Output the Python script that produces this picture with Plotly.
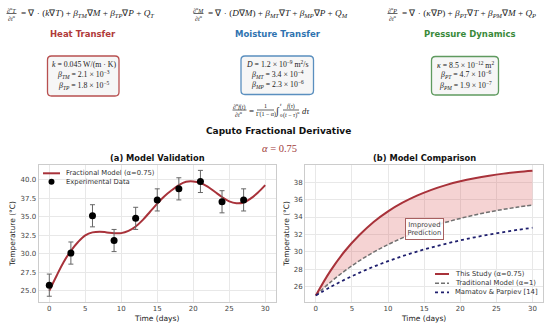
import plotly.graph_objects as go

W, H = 550, 327

# ---------------- data ----------------
val_time_days = [0, 3, 6, 9, 12, 15, 18, 21, 24, 27]
val_temp_exp = [25.75, 30.1, 35.15, 31.8, 34.8, 37.3, 38.8, 39.8, 37.05, 37.3]
val_temp_err = [1.5, 1.5, 1.5, 1.5, 1.5, 1.5, 1.5, 1.5, 1.5, 1.5]

model_time_days = list(range(0, 31))
model_temp_frac = [25.0, 27.0, 28.9, 30.4, 31.6, 32.5, 32.9, 33.0, 32.9, 32.8,
                   32.8, 33.1, 33.7, 34.6, 35.7, 36.8, 37.8, 38.6, 39.3, 39.75,
                   39.8, 39.6, 39.1, 38.4, 37.7, 37.1, 36.85, 36.95, 37.5, 38.3,
                   39.3]

cmp_time_days = [0, 2, 4, 6, 8, 10, 12, 14, 16, 18, 20, 22, 24, 26, 28, 30]
cmp_this_study = [25.0, 27.79, 30.07, 31.9, 33.43, 34.65, 35.64, 36.45, 37.12,
                  37.66, 38.10, 38.45, 38.74, 38.98, 39.17, 39.31]
cmp_traditional = [25.0, 26.50, 27.81, 28.96, 29.96, 30.84, 31.61, 32.28, 32.87,
                   33.39, 33.84, 34.23, 34.58, 34.88, 35.14, 35.38]
cmp_mamatov = [25.0, 25.95, 26.81, 27.59, 28.30, 28.93, 29.51, 30.03, 30.51,
               30.93, 31.32, 31.67, 31.99, 32.27, 32.53, 32.77]

x_ticks = [0, 5, 10, 15, 20, 25, 30]
y_ticks_a = [25.0, 27.5, 30.0, 32.5, 35.0, 37.5, 40.0]
y_ticks_b = [26, 28, 30, 32, 34, 36, 38]

# ---------------- styles ----------------
RED = "#a8323a"
HEAT = "#b03a3a"
MOIST = "#2f73b0"
PRESS = "#3a8a3a"
GRID = "#e8e8e8"
FRAME = "#cccccc"
SANS = "DejaVu Sans"
SERIF = "Liberation Serif"


def px(x):
    return x / W


def py(y):
    return 1 - y / H


annotations = []
shapes = []


def text(x, y, s, size, color="#222", family=SERIF, xanchor="center"):
    annotations.append(dict(x=px(x), y=py(y), xref="paper", yref="paper", text=s,
                            showarrow=False, xanchor=xanchor, yanchor="middle",
                            font=dict(size=size, color=color, family=family)))


def hline(x0, x1, y, color="#222", width=0.7, dash="solid"):
    shapes.append(dict(type="line", xref="paper", yref="paper",
                       x0=px(x0), x1=px(x1), y0=py(y), y1=py(y),
                       line=dict(color=color, width=width, dash=dash)))


def frac(xc, yc, num, den, w, size=6):
    text(xc, yc - 3.8, num, size)
    text(xc, yc + 4.2, den, size)
    hline(xc - w / 2, xc + w / 2, yc)


def rrect(x0, y0, x1, y1, r, color):
    rx, ry = r / W, r / H
    X0, X1, Y0, Y1 = px(x0), px(x1), py(y0), py(y1)
    p = (f"M {X0+rx},{Y0} L {X1-rx},{Y0} Q {X1},{Y0} {X1},{Y0-ry} "
         f"L {X1},{Y1+ry} Q {X1},{Y1} {X1-rx},{Y1} L {X0+rx},{Y1} "
         f"Q {X0},{Y1} {X0},{Y1+ry} L {X0},{Y0-ry} Q {X0},{Y0} {X0+rx},{Y0} Z")
    shapes.append(dict(type="path", xref="paper", yref="paper", path=p,
                       fillcolor="#f6f6f6", line=dict(color=color, width=1.3)))


# ---------------- equations ----------------
EQ = 9.2
frac(11.5, 13.5, "∂<sup>α</sup><i>T</i>", "∂<i>t</i><sup>α</sup>", 10)
text(19, 13.5, "= ∇ · (<i>k</i>∇<i>T</i>) + <i>β<sub>TM</sub></i>∇<i>M</i> + "
     "<i>β<sub>TP</sub></i>∇<i>P</i> + <i>Q<sub>T</sub></i>", EQ, xanchor="left")
frac(198.5, 13.5, "∂<sup>α</sup><i>M</i>", "∂<i>t</i><sup>α</sup>", 10)
text(206, 13.5, "= ∇ · (<i>D</i>∇<i>M</i>) + <i>β<sub>MT</sub></i>∇<i>T</i> + "
     "<i>β<sub>MP</sub></i>∇<i>P</i> + <i>Q<sub>M</sub></i>", EQ, xanchor="left")
frac(392.5, 13.5, "∂<sup>α</sup><i>P</i>", "∂<i>t</i><sup>α</sup>", 10)
text(400, 13.5, "= ∇ · (<i>κ</i>∇<i>P</i>) + <i>β<sub>PT</sub></i>∇<i>T</i> + "
     "<i>β<sub>PM</sub></i>∇<i>M</i> + <i>Q<sub>P</sub></i>", EQ, xanchor="left")

# section titles
text(83, 34, "<b>Heat Transfer</b>", 8.5, HEAT, SANS)
text(277.5, 34, "<b>Moisture Transfer</b>", 8.5, MOIST, SANS)
text(470, 34, "<b>Pressure Dynamics</b>", 8.5, PRESS, SANS)

# parameter boxes
BX = 7.8
rrect(47.5, 56, 119, 96, 4, "#b85050")
text(83.5, 64.5, "<i>k</i> = 0.045 W/(m · K)", BX)
text(83.5, 75, "<i>β<sub>TM</sub></i> = 2.1 × 10<sup>−3</sup>", BX)
text(83.5, 85.5, "<i>β<sub>TP</sub></i> = 1.8 × 10<sup>−5</sup>", BX)

rrect(241, 56, 313.5, 94.5, 4, "#5a8fbf")
text(277.5, 64, "<i>D</i> = 1.2 × 10<sup>−9</sup> m<sup>2</sup>/s", BX)
text(277.5, 74.5, "<i>β<sub>MT</sub></i> = 3.4 × 10<sup>−4</sup>", BX)
text(277.5, 85, "<i>β<sub>MP</sub></i> = 2.3 × 10<sup>−6</sup>", BX)

rrect(431.5, 56.5, 498.5, 95, 4, "#5f9a5f")
text(465, 64.5, "<i>κ</i> = 8.5 × 10<sup>−12</sup> m<sup>2</sup>", BX)
text(465, 75, "<i>β<sub>PT</sub></i> = 4.7 × 10<sup>−6</sup>", BX)
text(465, 85.5, "<i>β<sub>PM</sub></i> = 1.9 × 10<sup>−7</sup>", BX)

# Caputo derivative
frac(239.5, 110, "∂<sup>α</sup><i>f</i>(<i>t</i>)", "∂<i>t</i><sup>α</sup>", 14)
text(251.5, 110.5, "=", 9)
frac(265.5, 110, "1", "Γ(1 − α)", 17)
text(277, 110.5, "∫", 10)
text(281, 104.5, "<i>t</i>", 5)
text(281, 115.5, "0", 5)
frac(291, 110, "<i>f</i>(<i>τ</i>)", "(<i>t</i> − <i>τ</i>)<sup>α</sup>", 16)
text(300, 110.5, "<i>dτ</i>", 8.5, xanchor="left")

text(278.5, 131, "<b>Caputo Fractional Derivative</b>", 9, "#111", SANS)
text(279, 148, "<i>α</i> = 0.75", 10.5, "#a03a3a")

# panel titles
text(157.5, 158, "<b>(a) Model Validation</b>", 8.3, "#111", SANS)
text(424, 158, "<b>(b) Model Comparison</b>", 8.3, "#111", SANS)

# custom legends
hline(43, 60, 173.3, RED, 2)
shapes.append(dict(type="circle", xref="paper", yref="paper",
                   x0=px(48.5), x1=px(54.5), y0=py(178.7), y1=py(184.7),
                   fillcolor="black", line=dict(color="black", width=0)))
text(64, 173.3, "Fractional Model (α=0.75)", 6.8, "#333", SANS, "left")
text(64, 181.7, "Experimental Data", 6.8, "#333", SANS, "left")

hline(435, 449, 274, RED, 2)
hline(435, 449, 283.3, "#707070", 1.5, "4px,2px")
hline(435, 449, 292.3, "#1f1f6e", 1.8, "dot")
text(453, 274, "This Study (α=0.75)", 6.8, "#333", SANS, "left")
text(453, 283.3, "Traditional Model (α=1)", 6.8, "#333", SANS, "left")
text(453, 292.3, "Mamatov & Parpiev [14]", 6.8, "#333", SANS, "left")

# ---------------- traces ----------------
fig = go.Figure()

fig.add_trace(go.Scatter(x=model_time_days, y=model_temp_frac, mode="lines",
                         line=dict(color=RED, width=2, shape="spline"),
                         xaxis="x", yaxis="y", showlegend=False,
                         name="Fractional Model (α=0.75)"))
fig.add_trace(go.Scatter(x=val_time_days, y=val_temp_exp, mode="markers",
                         marker=dict(color="black", size=7),
                         error_y=dict(type="data", array=val_temp_err,
                                      color="#666", thickness=1, width=2.5),
                         xaxis="x", yaxis="y", showlegend=False,
                         name="Experimental Data"))

fig.add_trace(go.Scatter(x=cmp_time_days, y=cmp_traditional, mode="lines",
                         line=dict(color="#707070", width=1.5, dash="4px,2px",
                                   shape="spline"),
                         xaxis="x2", yaxis="y2", showlegend=False,
                         name="Traditional Model (α=1)"))
fig.add_trace(go.Scatter(x=cmp_time_days, y=cmp_this_study, mode="lines",
                         line=dict(color=RED, width=2, shape="spline"),
                         fill="tonexty", fillcolor="rgba(215,80,80,0.25)",
                         xaxis="x2", yaxis="y2", showlegend=False,
                         name="This Study (α=0.75)"))
fig.add_trace(go.Scatter(x=cmp_time_days, y=cmp_mamatov, mode="lines",
                         line=dict(color="#1f1f6e", width=1.8, dash="dot",
                                   shape="spline"),
                         xaxis="x2", yaxis="y2", showlegend=False,
                         name="Mamatov & Parpiev [14]"))

annotations.append(dict(x=15, y=32.65, xref="x2", yref="y2",
                        text="Improved<br>Prediction", showarrow=False,
                        font=dict(size=6.8, color="#444", family=SANS),
                        bgcolor="rgba(255,255,255,0.85)", bordercolor="#a86060",
                        borderwidth=1, borderpad=1.5))

axis_common = dict(showgrid=True, gridcolor=GRID, gridwidth=0.8, zeroline=False,
                   showline=True, mirror=True, linecolor=FRAME, linewidth=1,
                   ticks="", tickfont=dict(size=7, color="#444", family=SANS),
                   automargin=False)

ydom = [py(301.7), py(165)]
fig.update_layout(
    width=W, height=H, autosize=False,
    margin=dict(l=0, r=0, t=0, b=0),
    paper_bgcolor="white", plot_bgcolor="white",
    showlegend=False,
    font=dict(family=SANS),
    xaxis=dict(domain=[px(38.5), px(276)], range=[-1.5, 31.5], tickvals=x_ticks,
               title=dict(text="Time (days)", font=dict(size=7.5, color="#222"),
                          standoff=3),
               anchor="y", **axis_common),
    yaxis=dict(domain=ydom, range=[23.51, 42.03], tickvals=y_ticks_a,
               tickformat=".1f",
               title=dict(text="Temperature (°C)", font=dict(size=7.5, color="#222"),
                          standoff=3),
               anchor="x", **axis_common),
    xaxis2=dict(domain=[px(305), px(543.3)], range=[-1.5, 31.5], tickvals=x_ticks,
                title=dict(text="Time (days)", font=dict(size=7.5, color="#222"),
                           standoff=3),
                anchor="y2", **axis_common),
    yaxis2=dict(domain=ydom, range=[24.28, 39.97], tickvals=y_ticks_b,
                title=dict(text="Temperature (°C)", font=dict(size=7.5, color="#222"),
                           standoff=3),
                anchor="x2", **axis_common),
    annotations=annotations,
    shapes=shapes,
)

fig.write_html("out.html", config={"displayModeBar": False},
               post_script="document.body.style.margin='0';"
                           "document.body.style.padding='0';")
